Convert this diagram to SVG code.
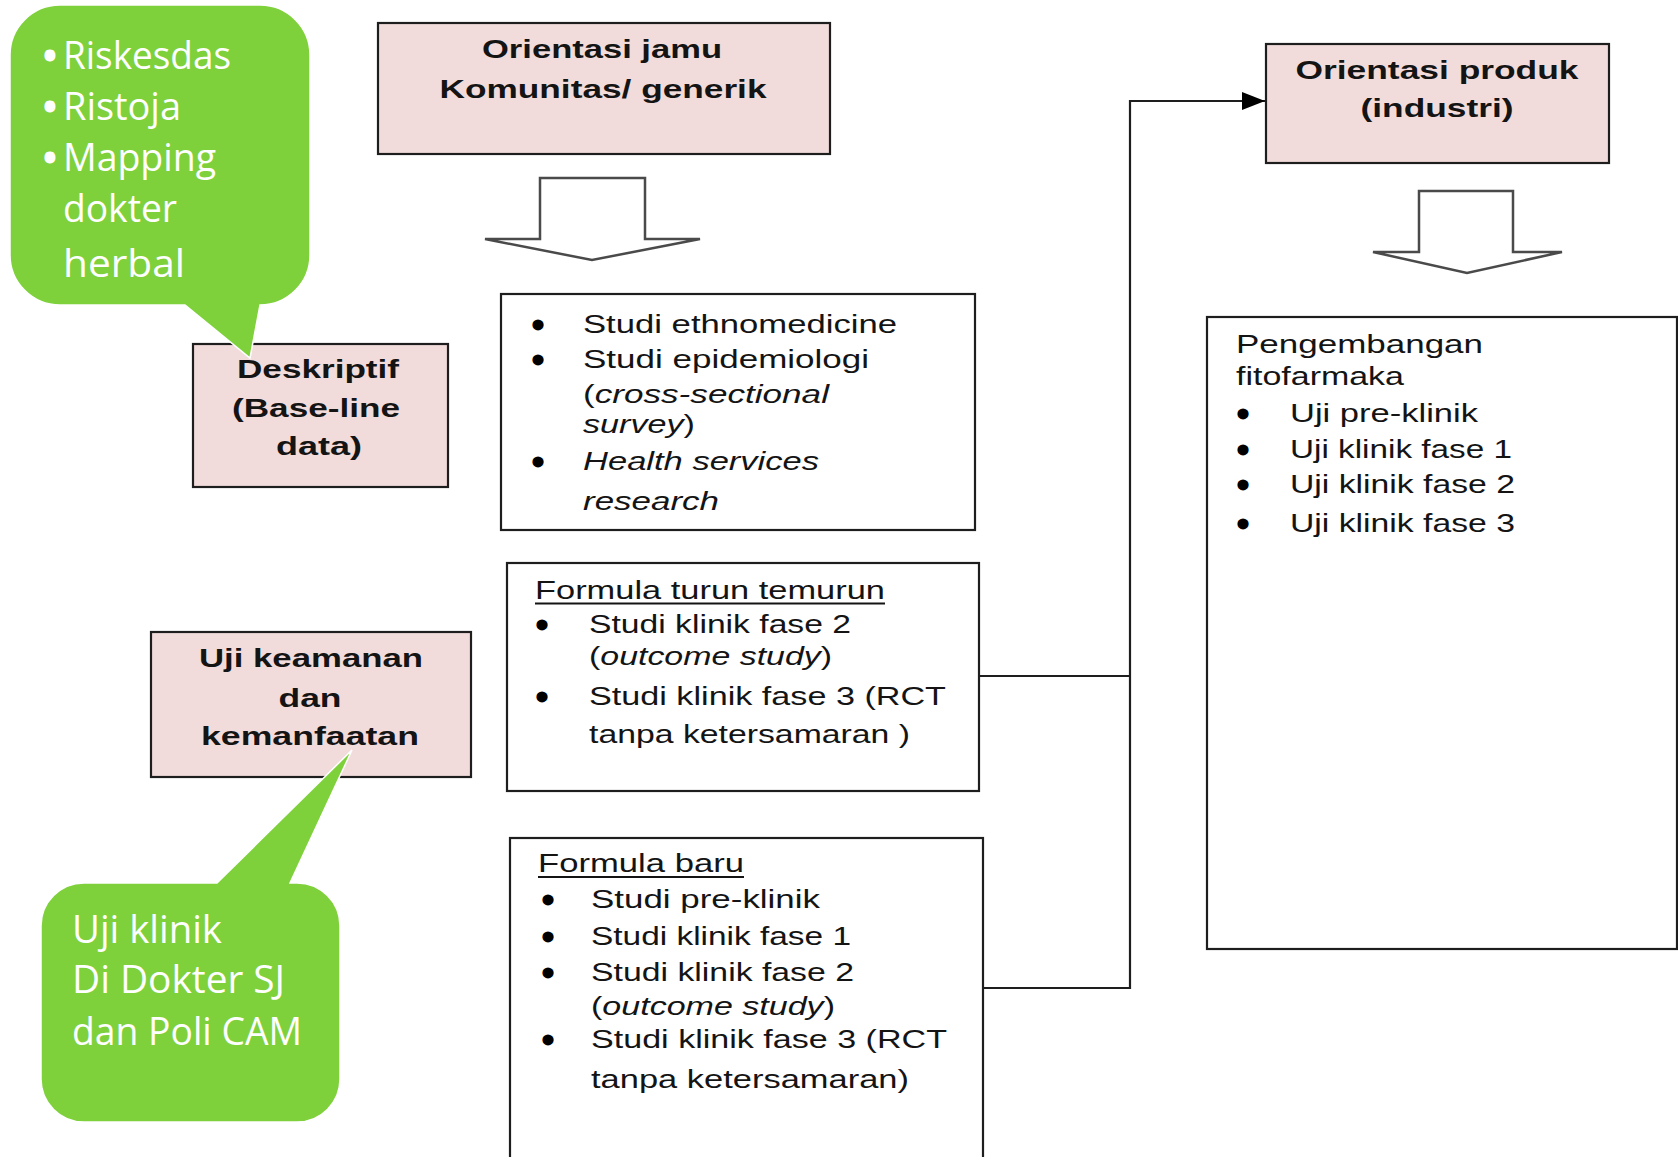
<svg xmlns="http://www.w3.org/2000/svg" width="1678" height="1157" viewBox="0 0 1678 1157">
<defs>
<style>
.box{fill:#ffffff;stroke:#1e1e1e;stroke-width:2.2}
.pink{fill:#f2dcdb;stroke:#1e1e1e;stroke-width:2.2}
.blk{fill:#ffffff;stroke:#4a4a4a;stroke-width:2.5;stroke-linejoin:miter}
.t{font-family:"Liberation Sans",Arial,sans-serif;font-size:26px;fill:#141414}
.b{font-family:"Liberation Sans",Arial,sans-serif;font-size:25px;font-weight:bold;fill:#141414;text-anchor:middle}
.bu{font-family:"Liberation Sans",Arial,sans-serif;font-size:30px;fill:#000;stroke:#000;stroke-width:3;text-anchor:middle}
.g{fill:#7ed13b;stroke:#ffffff;stroke-width:1.5}
.gt{font-family:"Open Sans","Noto Sans",sans-serif;font-size:38px;fill:#ffffff}
.gb{font-family:"Open Sans","Noto Sans",sans-serif;font-size:38px;fill:#ffffff;stroke:#ffffff;stroke-width:3;text-anchor:middle}
.i{font-style:italic}
.conn{fill:none;stroke:#1e1e1e;stroke-width:2.2}
</style>
<marker id="ah" markerUnits="userSpaceOnUse" markerWidth="24" markerHeight="20" refX="23" refY="9" orient="auto">
<path d="M0,0 L23,9 L0,18 Z" fill="#000"/>
</marker>
</defs>

<g id="connectors">
<path class="conn" d="M979,676 H1130"/>
<path class="conn" d="M983,988 H1130 V101 H1265" marker-end="url(#ah)"/>
</g>

<g id="orientasi-jamu">
<rect class="pink" x="378" y="23" width="452" height="131"/>
<text class="b" x="602" y="58" textLength="240" lengthAdjust="spacingAndGlyphs">Orientasi jamu</text>
<text class="b" x="603" y="98" textLength="327" lengthAdjust="spacingAndGlyphs">Komunitas/ generik</text>
</g>

<g id="arrow-jamu">
<path class="blk" d="M540,178 H645 V239 H700 L592,260 L485,239 H540 Z"/>
</g>

<g id="orientasi-produk">
<rect class="pink" x="1266" y="44" width="343" height="119"/>
<text class="b" x="1437" y="79" textLength="283" lengthAdjust="spacingAndGlyphs">Orientasi produk</text>
<text class="b" x="1437" y="117" textLength="153" lengthAdjust="spacingAndGlyphs">(industri)</text>
</g>

<g id="arrow-produk">
<path class="blk" d="M1419,191 H1513 V252 H1562 L1467,273 L1373,252 H1419 Z"/>
</g>

<g id="deskriptif">
<rect class="pink" x="193" y="344" width="255" height="143"/>
<text class="b" x="318" y="378" textLength="162" lengthAdjust="spacingAndGlyphs">Deskriptif</text>
<text class="b" x="316" y="417" textLength="168" lengthAdjust="spacingAndGlyphs">(Base-line</text>
<text class="b" x="319" y="455" textLength="86" lengthAdjust="spacingAndGlyphs">data)</text>
</g>

<g id="studi-box">
<rect class="box" x="501" y="294" width="474" height="236"/>
<text class="bu" x="538" y="335">•</text>
<text class="bu" x="538" y="370">•</text>
<text class="bu" x="538" y="472">•</text>
<text class="t" x="583" y="333" textLength="314" lengthAdjust="spacingAndGlyphs">Studi ethnomedicine</text>
<text class="t" x="583" y="368" textLength="286" lengthAdjust="spacingAndGlyphs">Studi epidemiologi</text>
<text class="t" x="583" y="403" textLength="246" lengthAdjust="spacingAndGlyphs">(<tspan class="i">cross-sectional</tspan></text>
<text class="t" x="583" y="433" textLength="112" lengthAdjust="spacingAndGlyphs"><tspan class="i">survey</tspan>)</text>
<text class="t i" x="583" y="470" textLength="236" lengthAdjust="spacingAndGlyphs">Health services</text>
<text class="t i" x="583" y="510" textLength="136" lengthAdjust="spacingAndGlyphs">research</text>
</g>

<g id="uji-keamanan">
<rect class="pink" x="151" y="632" width="320" height="145"/>
<text class="b" x="311" y="667" textLength="224" lengthAdjust="spacingAndGlyphs">Uji keamanan</text>
<text class="b" x="310" y="707" textLength="63" lengthAdjust="spacingAndGlyphs">dan</text>
<text class="b" x="310" y="745" textLength="218" lengthAdjust="spacingAndGlyphs">kemanfaatan</text>
</g>

<g id="formula-turun">
<rect class="box" x="507" y="563" width="472" height="228"/>
<text class="t" x="535" y="599" textLength="350" lengthAdjust="spacingAndGlyphs">Formula turun temurun</text>
<line x1="535" y1="603.5" x2="885" y2="603.5" stroke="#141414" stroke-width="1.8"/>
<text class="bu" x="542" y="635">•</text>
<text class="bu" x="542" y="707">•</text>
<text class="t" x="589" y="633" textLength="262" lengthAdjust="spacingAndGlyphs">Studi klinik fase 2</text>
<text class="t" x="589" y="665" textLength="243" lengthAdjust="spacingAndGlyphs">(<tspan class="i">outcome study</tspan>)</text>
<text class="t" x="589" y="705" textLength="357" lengthAdjust="spacingAndGlyphs">Studi klinik fase 3 (RCT</text>
<text class="t" x="589" y="743" textLength="321" lengthAdjust="spacingAndGlyphs">tanpa ketersamaran )</text>
</g>

<g id="formula-baru">
<rect class="box" x="510" y="838" width="473" height="340"/>
<text class="t" x="538" y="872" textLength="206" lengthAdjust="spacingAndGlyphs">Formula baru</text>
<line x1="538" y1="877" x2="744" y2="877" stroke="#141414" stroke-width="1.8"/>
<text class="bu" x="548" y="910">•</text>
<text class="bu" x="548" y="947">•</text>
<text class="bu" x="548" y="983">•</text>
<text class="bu" x="548" y="1050">•</text>
<text class="t" x="591" y="908" textLength="229" lengthAdjust="spacingAndGlyphs">Studi pre-klinik</text>
<text class="t" x="591" y="945" textLength="260" lengthAdjust="spacingAndGlyphs">Studi klinik fase 1</text>
<text class="t" x="591" y="981" textLength="263" lengthAdjust="spacingAndGlyphs">Studi klinik fase 2</text>
<text class="t" x="591" y="1015" textLength="244" lengthAdjust="spacingAndGlyphs">(<tspan class="i">outcome study</tspan>)</text>
<text class="t" x="591" y="1048" textLength="356" lengthAdjust="spacingAndGlyphs">Studi klinik fase 3 (RCT</text>
<text class="t" x="591" y="1088" textLength="318" lengthAdjust="spacingAndGlyphs">tanpa ketersamaran)</text>
</g>

<g id="fitofarmaka">
<rect class="box" x="1207" y="317" width="470" height="632"/>
<text class="t" x="1236" y="353" textLength="247" lengthAdjust="spacingAndGlyphs">Pengembangan</text>
<text class="t" x="1236" y="385" textLength="168" lengthAdjust="spacingAndGlyphs">fitofarmaka</text>
<text class="bu" x="1243" y="424">•</text>
<text class="bu" x="1243" y="460">•</text>
<text class="bu" x="1243" y="495">•</text>
<text class="bu" x="1243" y="534">•</text>
<text class="t" x="1290" y="422" textLength="188" lengthAdjust="spacingAndGlyphs">Uji pre-klinik</text>
<text class="t" x="1290" y="458" textLength="222" lengthAdjust="spacingAndGlyphs">Uji klinik fase 1</text>
<text class="t" x="1290" y="493" textLength="225" lengthAdjust="spacingAndGlyphs">Uji klinik fase 2</text>
<text class="t" x="1290" y="532" textLength="225" lengthAdjust="spacingAndGlyphs">Uji klinik fase 3</text>
</g>

<g id="callout-data">
<path class="g" d="M60,5 H260 A50,50 0 0 1 310,55 V255 A50,50 0 0 1 260,305 L250,358 L185,305 H60 A50,50 0 0 1 10,255 V55 A50,50 0 0 1 60,5 Z"/>
<text class="gb" x="50" y="70">•</text>
<text class="gb" x="50" y="121">•</text>
<text class="gb" x="50" y="172">•</text>
<text class="gt" x="63" y="69" textLength="168" lengthAdjust="spacingAndGlyphs">Riskesdas</text>
<text class="gt" x="63" y="120" textLength="118" lengthAdjust="spacingAndGlyphs">Ristoja</text>
<text class="gt" x="63" y="171" textLength="153" lengthAdjust="spacingAndGlyphs">Mapping</text>
<text class="gt" x="63" y="222" textLength="114" lengthAdjust="spacingAndGlyphs">dokter</text>
<text class="gt" x="63" y="277" textLength="122" lengthAdjust="spacingAndGlyphs">herbal</text>
</g>

<g id="callout-klinik">
<path class="g" d="M84,883 H217 L352,750 L290,883 H297 A43,43 0 0 1 340,926 V1079 A43,43 0 0 1 297,1122 H84 A43,43 0 0 1 41,1079 V926 A43,43 0 0 1 84,883 Z"/>
<text class="gt" x="72" y="943" textLength="150" lengthAdjust="spacingAndGlyphs">Uji klinik</text>
<text class="gt" x="72" y="993" textLength="213" lengthAdjust="spacingAndGlyphs">Di Dokter SJ</text>
<text class="gt" x="72" y="1045" textLength="230" lengthAdjust="spacingAndGlyphs">dan Poli CAM</text>
</g>
</svg>
